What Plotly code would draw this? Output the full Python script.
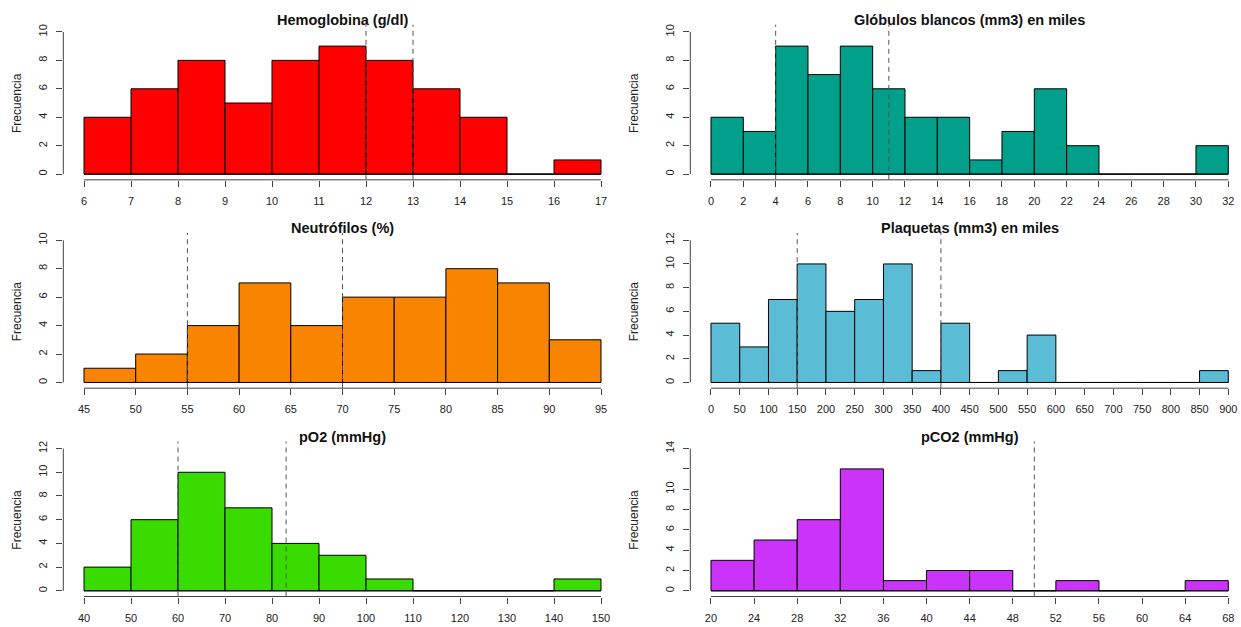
import plotly.graph_objects as go

# ---------------- data ----------------
hb_breaks = [6, 7, 8, 9, 10, 11, 12, 13, 14, 15, 16, 17]
hb_counts = [4, 6, 8, 5, 8, 9, 8, 6, 4, 0, 1]
hb_refs = [12, 13]
hb_xticks = [6, 7, 8, 9, 10, 11, 12, 13, 14, 15, 16, 17]
hb_yticks = [0, 2, 4, 6, 8, 10]

gb_breaks = [0, 2, 4, 6, 8, 10, 12, 14, 16, 18, 20, 22, 24, 26, 28, 30, 32]
gb_counts = [4, 3, 9, 7, 9, 6, 4, 4, 1, 3, 6, 2, 0, 0, 0, 2]
gb_refs = [4, 11]
gb_xticks = [0, 2, 4, 6, 8, 10, 12, 14, 16, 18, 20, 22, 24, 26, 28, 30, 32]
gb_yticks = [0, 2, 4, 6, 8, 10]

ne_breaks = [45, 50, 55, 60, 65, 70, 75, 80, 85, 90, 95]
ne_counts = [1, 2, 4, 7, 4, 6, 6, 8, 7, 3]
ne_refs = [55, 70]
ne_xticks = [45, 50, 55, 60, 65, 70, 75, 80, 85, 90, 95]
ne_yticks = [0, 2, 4, 6, 8, 10]

pl_breaks = [0, 50, 100, 150, 200, 250, 300, 350, 400, 450, 500, 550, 600,
             650, 700, 750, 800, 850, 900]
pl_counts = [5, 3, 7, 10, 6, 7, 10, 1, 5, 0, 1, 4, 0, 0, 0, 0, 0, 1]
pl_refs = [150, 400]
pl_xticks = [0, 50, 100, 150, 200, 250, 300, 350, 400, 450, 500, 550, 600,
             650, 700, 750, 800, 850, 900]
pl_yticks = [0, 2, 4, 6, 8, 10, 12]

po_breaks = [40, 50, 60, 70, 80, 90, 100, 110, 120, 130, 140, 150]
po_counts = [2, 6, 10, 7, 4, 3, 1, 0, 0, 0, 1]
po_refs = [60, 83]
po_xticks = [40, 50, 60, 70, 80, 90, 100, 110, 120, 130, 140, 150]
po_yticks = [0, 2, 4, 6, 8, 10, 12]

pc_breaks = [20, 24, 28, 32, 36, 40, 44, 48, 52, 56, 60, 64, 68]
pc_counts = [3, 5, 7, 12, 1, 2, 2, 0, 1, 0, 0, 1]
pc_refs = [50]
pc_xticks = [20, 24, 28, 32, 36, 40, 44, 48, 52, 56, 60, 64, 68]
pc_yticks = [0, 2, 4, 6, 8, 10, 12, 14]
pc_yticklabels = ["0", "2", "4", "6", "8", "10", "", "14"]

titles = ["Hemoglobina (g/dl)", "Glóbulos blancos (mm3) en miles",
          "Neutrófilos (%)", "Plaquetas (mm3) en miles",
          "pO2 (mmHg)", "pCO2 (mmHg)"]
colors = ["#FF0000", "#00A08A", "#F98400", "#5BBCD6", "#3ADC00", "#CB33F8"]
ylabel = "Frecuencia"

panels = [
    (hb_breaks, hb_counts, hb_refs, hb_xticks, hb_yticks, None),
    (gb_breaks, gb_counts, gb_refs, gb_xticks, gb_yticks, None),
    (ne_breaks, ne_counts, ne_refs, ne_xticks, ne_yticks, None),
    (pl_breaks, pl_counts, pl_refs, pl_xticks, pl_yticks, None),
    (po_breaks, po_counts, po_refs, po_xticks, po_yticks, None),
    (pc_breaks, pc_counts, pc_refs, pc_xticks, pc_yticks, pc_yticklabels),
]

# ---------------- layout geometry (pixels) ----------------
W, H = 1241, 627
ROW_STEP = 209.0
col_first_px = [84.0, 711.0]     # pixel of first x tick
col_last_px = [601.0, 1228.3]    # pixel of last x tick
ylab_px = [17.0, 634.0]
FONT = "Liberation Sans, Arial, sans-serif"
AXC = "#444444"

fig = go.Figure()
layout = dict(width=W, height=H, margin=dict(l=0, r=0, t=0, b=0),
              paper_bgcolor="white", plot_bgcolor="white",
              showlegend=False, font=dict(family=FONT, color="#222222"))
shapes = []
annotations = []

for i, (breaks, counts, refs, xt, yt, ytl) in enumerate(panels):
    r, c = divmod(i, 2)
    n = i + 1
    xa = "x" if n == 1 else f"x{n}"
    ya = "y" if n == 1 else f"y{n}"
    xkey = "xaxis" if n == 1 else f"xaxis{n}"
    ykey = "yaxis" if n == 1 else f"yaxis{n}"

    # x mapping
    a, b = xt[0], xt[-1]
    pa, pb = col_first_px[c], col_last_px[c]
    k = (pb - pa) / (b - a)
    ext = 0.04 * (pb - pa)
    L = pa - ext
    R = min(pb + ext, W)
    xr = [a + (L - pa) / k, a + (R - pa) / k]

    # y mapping
    T = yt[-1]
    y0px = 172.7 + ROW_STEP * r
    ytop = 30.0 + ROW_STEP * r
    span = y0px - ytop
    top_px = ytop - 0.04 * span
    bot_px = y0px + 0.04 * span
    yr = [-0.04 * T, 1.04 * T]

    mids = [(breaks[j] + breaks[j + 1]) / 2 for j in range(len(counts))]
    widths = [breaks[j + 1] - breaks[j] for j in range(len(counts))]

    fig.add_trace(go.Bar(x=mids, y=counts, width=widths,
                         marker=dict(color=colors[i],
                                     line=dict(color="black", width=1)),
                         xaxis=xa, yaxis=ya, hoverinfo="skip"))
    fig.add_trace(go.Scatter(x=[breaks[0], breaks[-1]], y=[0, 0],
                             mode="lines", line=dict(color="black", width=1),
                             xaxis=xa, yaxis=ya, hoverinfo="skip"))

    layout[xkey] = dict(domain=[L / W, R / W], range=xr, anchor=ya,
                        tickvals=xt, ticktext=[str(v) for v in xt],
                        ticks="outside", ticklen=6, tickwidth=1, tickcolor=AXC,
                        showline=False, showgrid=False, zeroline=False,
                        ticklabelstandoff=5,
                        tickfont=dict(size=11, family=FONT, color="#222222"))
    layout[ykey] = dict(domain=[1 - bot_px / H, 1 - top_px / H], range=yr,
                        anchor=xa, tickvals=yt,
                        ticktext=ytl if ytl else [str(v) for v in yt],
                        tickangle=-90,
                        ticks="outside", ticklen=6, tickwidth=1, tickcolor=AXC,
                        showline=False, showgrid=False, zeroline=False,
                        ticklabelstandoff=5,
                        tickfont=dict(size=11, family=FONT, color="#222222"))

    # R-style axis lines
    shapes.append(dict(type="line", xref=xa, yref=f"{ya} domain",
                       x0=xt[0], x1=xt[-1], y0=0, y1=0,
                       line=dict(color=AXC, width=1)))
    shapes.append(dict(type="line", xref=f"{xa} domain", yref=ya,
                       x0=0, x1=0, y0=yt[0], y1=yt[-1],
                       line=dict(color=AXC, width=1)))
    # reference dashed lines
    for v in refs:
        shapes.append(dict(type="line", xref=xa, yref=f"{ya} domain",
                           x0=v, x1=v, y0=0, y1=1.01, layer="above",
                           line=dict(color="#555555", width=1, dash="5px,4px")))

    # title
    full_R = pb + ext
    cx = (L + full_R) / 2
    annotations.append(dict(text=f"<b>{titles[i]}</b>", xref="paper", yref="paper",
                            x=cx / W, y=1 - (18 + ROW_STEP * r) / H,
                            xanchor="center", yanchor="middle", showarrow=False,
                            font=dict(size=14.5, family=FONT, color="#111111")))
    # y label
    annotations.append(dict(text=ylabel, xref="paper", yref="paper",
                            x=ylab_px[c] / W, y=1 - ((top_px + bot_px) / 2) / H,
                            xanchor="center", yanchor="middle", textangle=-90,
                            showarrow=False,
                            font=dict(size=12, family=FONT, color="#222222")))

layout["shapes"] = shapes
layout["annotations"] = annotations
fig.update_layout(**layout)
fig.write_html("out.html",
               config={"displayModeBar": False},
               post_script="document.body.style.margin='0';"
                           "document.body.style.overflow='hidden';")
